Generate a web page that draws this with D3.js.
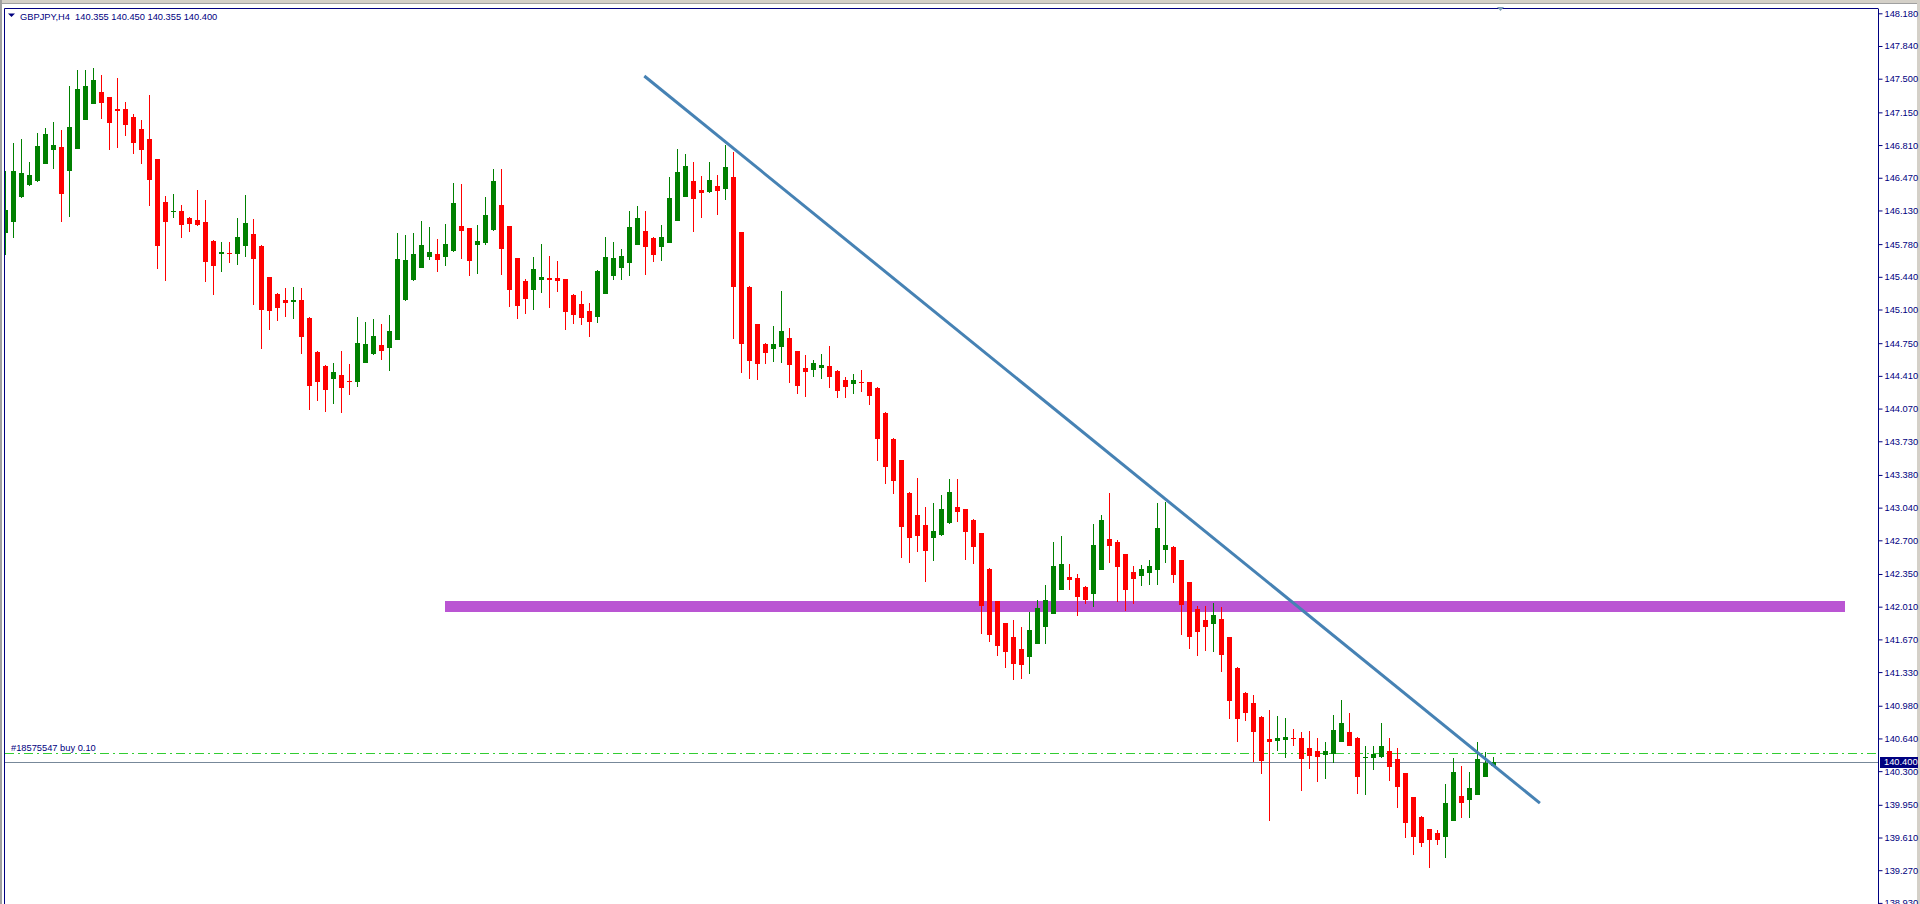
<!DOCTYPE html>
<html><head><meta charset="utf-8">
<script src="https://cdn.jsdelivr.net/npm/d3@7"></script>
<style>html,body{margin:0;padding:0;background:#fff;overflow:hidden}svg{display:block}</style>
</head><body>
<svg id="c" width="1920" height="904"></svg>
<script>
// ---- DATA (bar index starts at -1, the first bar is partly hidden by the frame) ----
const symbolTitle = "GBPJPY,H4";
const lastBarText = "140.355 140.450 140.355 140.400";
const firstBar = -1;
const opens = [145.892,146.012,146.272,146.394,146.439,146.616,146.761,146.789,146.543,146.772,147.073,147.240,147.361,147.309,147.184,147.184,147.101,146.976,146.872,146.664,146.217,146.113,146.124,146.051,146.030,146.009,145.812,145.680,145.690,145.680,145.763,145.884,145.760,145.437,145.260,145.198,145.180,145.198,145.014,144.660,144.515,144.379,144.421,144.359,144.348,144.546,144.640,144.730,144.702,144.785,145.201,145.409,145.534,145.648,145.676,145.648,145.711,145.968,145.947,145.773,145.794,145.929,146.186,145.968,145.635,145.396,145.305,145.409,145.427,145.427,145.416,145.250,145.156,145.084,145.024,145.264,145.451,145.534,145.586,145.773,145.916,145.843,145.752,145.794,146.023,146.272,146.436,146.342,146.324,146.384,146.356,146.477,145.905,145.333,144.948,144.740,144.692,144.712,144.803,144.668,144.491,144.473,144.494,144.512,144.460,144.366,144.328,144.348,144.345,144.283,144.023,143.752,143.534,143.191,142.962,142.858,142.726,142.757,142.882,143.045,143.024,142.910,142.775,142.404,142.068,141.839,141.693,141.568,141.488,141.624,141.800,141.936,142.185,142.317,142.307,142.213,142.144,142.393,142.712,142.681,142.556,142.369,142.331,142.362,142.393,142.601,142.629,142.494,142.265,141.984,141.870,141.832,141.880,141.693,141.371,141.111,141.007,140.861,140.632,140.615,140.625,140.643,140.643,140.539,140.508,140.466,140.480,140.604,140.705,140.643,140.438,140.438,140.448,140.508,140.424,140.279,140.029,139.821,139.696,139.655,139.616,139.783,140.040,139.999,140.053,140.240,140.355];
const highs = [146.540,146.831,146.872,146.633,146.935,146.987,147.049,146.966,147.424,147.590,147.590,147.611,147.538,147.310,147.507,147.257,147.132,147.070,147.330,146.670,146.280,146.300,146.186,146.060,146.345,146.238,145.820,145.801,145.801,146.051,146.290,146.040,145.770,145.440,145.270,145.323,145.333,145.323,145.020,144.670,144.520,144.546,144.671,144.536,145.024,144.972,145.003,144.952,145.045,145.898,145.874,145.895,146.020,145.957,145.832,145.988,146.415,146.404,145.950,145.978,146.269,146.560,146.560,145.970,145.640,145.416,145.645,145.780,145.656,145.604,145.420,145.260,145.292,145.167,145.510,145.853,145.801,145.728,146.124,146.176,146.124,145.850,145.978,146.477,146.768,146.716,146.633,146.488,146.633,146.498,146.810,146.737,145.910,145.340,144.950,144.754,144.928,145.292,144.907,144.670,144.626,144.574,144.636,144.720,144.470,144.397,144.428,144.470,144.350,144.290,144.030,143.760,143.540,143.200,143.347,143.045,143.087,143.170,143.336,143.336,143.030,142.920,142.780,142.410,142.070,141.840,141.870,141.797,141.953,142.078,142.234,142.681,142.744,142.452,142.348,142.220,142.868,142.962,143.191,142.702,142.560,142.432,142.442,142.494,143.087,143.097,142.640,142.500,142.270,142.016,142.016,142.047,142.005,141.700,141.380,141.120,141.090,140.870,140.934,140.872,140.851,140.736,140.705,140.716,140.643,140.601,140.882,141.038,140.903,140.650,140.560,140.560,140.799,140.643,140.539,140.280,140.030,139.830,139.700,139.686,140.164,140.435,140.352,140.292,140.601,140.497,140.450];
const lows = [145.666,145.846,146.260,146.384,146.430,146.610,146.564,146.012,146.064,146.770,147.070,147.240,147.084,146.761,146.782,146.907,146.720,146.616,146.179,145.524,145.399,146.054,145.846,145.908,145.970,145.388,145.253,145.492,145.586,145.565,145.648,145.149,144.692,144.889,144.983,145.024,145.003,144.640,144.057,144.151,144.036,144.120,144.026,144.213,144.296,144.540,144.630,144.577,144.463,144.780,145.190,145.400,145.530,145.614,145.492,145.555,145.700,145.628,145.451,145.471,145.773,145.920,145.461,145.128,145.003,145.055,145.097,145.274,145.118,145.284,144.889,144.952,144.941,144.816,144.962,145.260,145.406,145.409,145.451,145.770,145.461,145.596,145.607,145.790,146.020,146.270,145.908,146.054,146.310,146.085,146.241,144.796,144.442,144.380,144.369,144.535,144.556,144.546,144.338,144.224,144.192,144.400,144.380,144.286,144.182,144.182,144.224,144.244,144.109,143.527,143.288,143.184,142.518,142.466,142.580,142.268,142.487,142.750,142.870,142.892,142.497,142.455,141.728,141.648,141.496,141.374,141.249,141.260,141.312,141.620,141.624,141.930,142.180,142.185,141.915,142.040,142.008,142.390,142.466,142.060,141.967,142.040,142.227,142.237,142.237,142.466,142.252,141.717,141.571,141.499,141.551,141.540,141.332,140.844,140.604,140.823,140.396,140.271,139.783,140.511,140.438,140.563,140.095,140.324,140.188,140.220,140.386,140.600,140.560,140.064,140.053,140.313,140.440,140.199,139.918,139.606,139.429,139.512,139.294,139.533,139.398,139.780,139.814,139.814,140.050,140.240,140.355];
const closes = [146.134,146.540,146.519,146.498,146.800,146.924,146.810,146.304,146.997,147.392,147.424,147.486,147.250,147.042,147.167,147.021,146.834,146.761,146.449,145.763,146.012,146.127,145.981,145.992,145.981,145.596,145.555,145.700,145.680,145.853,145.999,145.628,145.097,145.087,145.118,145.170,145.195,144.816,144.307,144.348,144.265,144.452,144.286,144.348,144.751,144.740,144.827,144.671,144.876,145.624,145.614,145.676,145.770,145.697,145.617,145.780,146.207,145.919,145.607,145.812,146.082,146.436,145.732,145.305,145.139,145.212,145.520,145.437,145.409,145.399,145.076,145.045,145.014,144.972,145.500,145.645,145.635,145.656,145.957,146.051,145.752,145.666,145.853,146.259,146.529,146.592,146.252,146.314,146.446,146.335,146.581,145.336,144.743,144.567,144.535,144.650,144.740,144.876,144.525,144.307,144.452,144.540,144.522,144.400,144.255,144.296,144.366,144.338,144.203,143.756,143.464,143.319,142.840,142.726,142.747,142.591,142.796,143.024,143.201,142.996,142.788,142.632,142.019,141.717,141.603,141.540,141.416,141.405,141.766,141.995,142.078,142.432,142.452,142.289,142.112,142.081,142.650,142.910,142.643,142.424,142.185,142.300,142.400,142.432,142.827,142.650,142.341,142.029,141.696,141.748,141.800,141.922,141.509,141.031,140.844,140.906,140.708,140.407,140.604,140.643,140.653,140.632,140.428,140.459,140.448,140.508,140.726,140.799,140.563,140.240,140.448,140.480,140.560,140.344,140.136,139.762,139.616,139.554,139.585,139.585,139.967,140.289,139.970,140.123,140.424,140.383,140.400];
const priceTicks = [148.180,147.840,147.500,147.150,146.810,146.470,146.130,145.780,145.440,145.100,144.750,144.410,144.070,143.730,143.380,143.040,142.700,142.350,142.010,141.670,141.330,140.980,140.640,140.300,139.950,139.610,139.270,138.930];
const bidPrice = 140.400;
const orderPrice = 140.484;
const orderLabel = "#18575547 buy 0.10";
const zoneBars = [53.94, 228.9];      // rectangle time span (bar index)
const zonePrices = [141.955, 142.070]; // rectangle price span
const trendBars = [78.85, 190.8];
const trendPrices = [147.528, 139.967];

// ---- LAYOUT ----
const svg = d3.select("#c");
const plotL = 5, plotT = 9, axisX = 1878;
const x = d3.scaleLinear().domain([-1, 185]).range([5.5, 1493.5]);
const y = d3.scaleLinear().domain([138.93, 148.18]).range([902.9, 13.3]);
const navy = "#000080";
const font = "'Liberation Sans', Arial, sans-serif";

// window chrome
svg.append("rect").attr("x",0).attr("y",0).attr("width",1920).attr("height",904).attr("fill","#fff");
svg.append("rect").attr("x",0).attr("y",0).attr("width",1920).attr("height",3).attr("fill","#d4d0c8");
svg.append("line").attr("x1",0).attr("x2",1920).attr("y1",3.5).attr("y2",3.5).attr("stroke","#a0a0a0");
svg.append("rect").attr("x",0).attr("y",0).attr("width",2).attr("height",904).attr("fill","#a0a0a0");
svg.append("rect").attr("x",1917).attr("y",0).attr("width",3).attr("height",904).attr("fill","#d4d0c8");

const defs = svg.append("defs");
defs.append("clipPath").attr("id","plot").append("rect")
  .attr("x",plotL).attr("y",plotT).attr("width",axisX-plotL).attr("height",904-plotT);
const g = svg.append("g").attr("clip-path","url(#plot)");

// rectangle zone
g.append("rect")
  .attr("x", Math.round(x(zoneBars[0]))).attr("width", Math.round(x(zoneBars[1]) - x(zoneBars[0])))
  .attr("y", Math.round(y(zonePrices[1]))).attr("height", Math.round(y(zonePrices[0]) - y(zonePrices[1])))
  .attr("fill", "#BA55D3");

// order line
g.append("line").attr("x1",plotL).attr("x2",axisX)
  .attr("y1",Math.round(y(orderPrice))+0.5).attr("y2",Math.round(y(orderPrice))+0.5)
  .attr("stroke","#32CD32").attr("stroke-dasharray","9,4,2,4");
// bid line
g.append("line").attr("x1",plotL).attr("x2",axisX)
  .attr("y1",Math.round(y(bidPrice))+0.5).attr("y2",Math.round(y(bidPrice))+0.5)
  .attr("stroke","#778899");

// candles
const bars = opens.map((o,i)=>({k:firstBar+i,o,h:highs[i],l:lows[i],c:closes[i]}));
const cg = g.append("g").attr("shape-rendering","crispEdges");
bars.forEach(b=>{
  const col = b.c >= b.o ? "#008000" : "#FF0000";
  const cx = x(b.k);
  const yh = Math.round(y(b.h)), yl = Math.round(y(b.l));
  cg.append("rect").attr("x",cx-0.5).attr("width",1).attr("y",yh).attr("height",Math.max(1,yl-yh)).attr("fill",col);
  const yt = Math.round(y(Math.max(b.o,b.c))), yb = Math.round(y(Math.min(b.o,b.c)));
  cg.append("rect").attr("x",cx-2.5).attr("width",5).attr("y",yt).attr("height",Math.max(1,yb-yt)).attr("fill",col);
});

// trend line
g.append("line")
  .attr("x1",x(trendBars[0])).attr("y1",y(trendPrices[0]))
  .attr("x2",x(trendBars[1])).attr("y2",y(trendPrices[1]))
  .attr("stroke","#4682B4").attr("stroke-width",3);

// order label
svg.append("text").attr("x",11).attr("y",Math.round(y(orderPrice))-2.5)
  .attr("font-family",font).attr("font-size","9.3px").attr("fill",navy).text(orderLabel);

// frame
svg.append("line").attr("x1",plotL-0.5).attr("x2",plotL-0.5).attr("y1",plotT-0.5).attr("y2",904).attr("stroke",navy);
svg.append("line").attr("x1",plotL-0.5).attr("x2",axisX+0.5).attr("y1",plotT-0.5).attr("y2",plotT-0.5).attr("stroke",navy);

// price axis
const axis = d3.axisRight(y).tickValues(priceTicks).tickSize(4).tickPadding(2).tickFormat(d3.format(".3f"));
const ag = svg.append("g").attr("transform",`translate(${axisX+0.5},0)`).call(axis);
ag.select(".domain").attr("stroke",navy).attr("d",`M0,${plotT}V904`);
ag.selectAll(".tick line").attr("stroke",navy);
ag.selectAll(".tick text").attr("fill",navy).attr("font-family",font).attr("font-size","9.3px");

// bid price label
const by = Math.round(y(bidPrice));
svg.append("rect").attr("x",axisX+2).attr("y",by-5).attr("width",38).attr("height",11).attr("fill",navy);
svg.append("text").attr("x",axisX+6).attr("y",by+0.5).attr("dy","0.32em")
  .attr("font-family",font).attr("font-size","9.3px").attr("fill","#fff").text(d3.format(".3f")(bidPrice));

// header
svg.append("path").attr("d","M8,13.5L15,13.5L11.5,17Z").attr("fill",navy);
svg.append("text").attr("x",20).attr("y",19.5).attr("font-family",font).attr("font-size","9.3px").attr("fill",navy)
  .attr("xml:space","preserve").text(symbolTitle + "  " + lastBarText);

// chart shift marker
svg.append("path").attr("d","M1497,7L1504,7L1500.5,11Z").attr("fill","#7f9db9");
</script>
</body></html>
